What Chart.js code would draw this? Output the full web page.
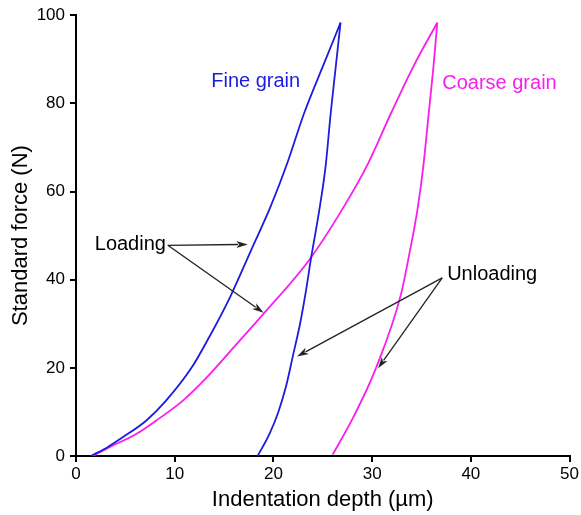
<!DOCTYPE html>
<html>
<head>
<meta charset="utf-8">
<script src="https://cdn.jsdelivr.net/npm/chart.js@4"></script>
<style>
  html, body { margin: 0; padding: 0; background: #fff; }
  #wrap { width: 581px; height: 515px; }
</style>
</head>
<body>
<div id="wrap"><canvas id="forceChart"></canvas></div>
<script>
// indentation depth (um) / standard force (N)
const fineLoadDepth = [1.5, 3.2, 4.7, 7.1, 9.1, 11.7, 13.5, 15.6, 17.7, 19.7, 21.4, 23.1, 25.1, 26.8];
const fineLoadForce = [0, 2.0, 4.2, 8.0, 12.5, 20.0, 27.0, 36.0, 46.5, 56.5, 66.4, 77.7, 88.9, 98.3];
const fineUnloadDepth = [18.4, 19.6, 20.5, 21.3, 22.0, 22.7, 23.3, 23.8, 24.7, 25.3, 25.8, 26.3, 26.8];
const fineUnloadForce = [0, 5.0, 10.0, 16.0, 23.0, 30.0, 37.5, 44.7, 56.5, 66.0, 77.7, 88.0, 98.3];
const coarseLoadDepth = [1.7, 3.4, 6.1, 8.1, 10.8, 13.2, 16.2, 18.9, 23.7, 27.2, 29.6, 31.9, 34.3, 36.6];
const coarseLoadForce = [0, 2.0, 5.0, 8.0, 12.5, 17.7, 25.2, 32.0, 44.7, 56.8, 66.4, 77.7, 88.9, 98.3];
const coarseUnloadDepth = [26.0, 28.1, 30.4, 32.9, 33.8, 34.6, 35.2, 35.7, 36.2, 36.6];
const coarseUnloadForce = [0.3, 8.8, 20.0, 36.5, 46.2, 56.0, 66.0, 77.0, 88.0, 98.3];

const xTicks = [0, 10, 20, 30, 40, 50];
const yTicks = [0, 20, 40, 60, 80, 100];

const BLUE = 'rgb(28,28,222)';
const MAGENTA = 'rgb(248,30,236)';
const FONT = 'Arial, "Liberation Sans", sans-serif';

function toPoints(xs, ys) {
  return xs.map((x, i) => ({x: x, y: ys[i]}));
}

function curve(label, xs, ys, color) {
  return {
    label: label,
    data: toPoints(xs, ys),
    showLine: true,
    borderColor: color,
    borderWidth: 1.8,
    pointRadius: 0,
    cubicInterpolationMode: 'monotone',
    fill: false
  };
}

const notes = {
  texts: [
    {text: 'Fine grain', x: 13.7, y: 84.9, color: BLUE},
    {text: 'Coarse grain', x: 37.1, y: 84.4, color: MAGENTA},
    {text: 'Loading', x: 1.9, y: 48.0, color: '#000'},
    {text: 'Unloading', x: 37.6, y: 41.1, color: '#000'}
  ],
  arrows: [
    {from: [9.3, 47.8], to: [17.4, 48.0]},
    {from: [9.3, 47.8], to: [19.0, 32.5]},
    {from: [37.1, 40.4], to: [22.4, 22.6]},
    {from: [37.1, 40.4], to: [30.6, 19.9]}
  ]
};

const notesPlugin = {
  id: 'notes',
  afterDatasetsDraw(chart) {
    const {ctx, scales: {x, y}} = chart;
    ctx.save();
    ctx.font = '20px ' + FONT;
    ctx.textAlign = 'left';
    ctx.textBaseline = 'middle';
    notes.texts.forEach(t => {
      ctx.fillStyle = t.color;
      ctx.fillText(t.text, x.getPixelForValue(t.x), y.getPixelForValue(t.y));
    });
    ctx.strokeStyle = '#222';
    ctx.fillStyle = '#222';
    ctx.lineWidth = 1.3;
    notes.arrows.forEach(a => {
      const x0 = x.getPixelForValue(a.from[0]), y0 = y.getPixelForValue(a.from[1]);
      const x1 = x.getPixelForValue(a.to[0]), y1 = y.getPixelForValue(a.to[1]);
      const ang = Math.atan2(y1 - y0, x1 - x0);
      const len = 12, half = 0.3;
      ctx.beginPath();
      ctx.moveTo(x0, y0);
      ctx.lineTo(x1 - Math.cos(ang) * len * 0.8, y1 - Math.sin(ang) * len * 0.8);
      ctx.stroke();
      ctx.beginPath();
      ctx.moveTo(x1, y1);
      ctx.lineTo(x1 - len * Math.cos(ang - half), y1 - len * Math.sin(ang - half));
      ctx.lineTo(x1 - len * 0.7 * Math.cos(ang), y1 - len * 0.7 * Math.sin(ang));
      ctx.lineTo(x1 - len * Math.cos(ang + half), y1 - len * Math.sin(ang + half));
      ctx.closePath();
      ctx.fill();
    });
    ctx.restore();
  }
};

const ctx = document.getElementById('forceChart').getContext('2d');
const forceChart = new Chart(ctx, {
  type: 'scatter',
  data: {
    datasets: [
      curve('Fine grain loading', fineLoadDepth, fineLoadForce, BLUE),
      curve('Fine grain unloading', fineUnloadDepth, fineUnloadForce, BLUE),
      curve('Coarse grain loading', coarseLoadDepth, coarseLoadForce, MAGENTA),
      curve('Coarse grain unloading', coarseUnloadDepth, coarseUnloadForce, MAGENTA)
    ]
  },
  options: {
    responsive: true,
    maintainAspectRatio: false,
    animation: false,
    layout: {padding: {left: 0, right: 2, top: 0, bottom: 0}},
    plugins: {
      legend: {display: false},
      tooltip: {enabled: false}
    },
    scales: {
      x: {
        type: 'linear',
        min: 0,
        max: 50,
        afterBuildTicks: s => { s.ticks = xTicks.map(v => ({value: v})); },
        afterFit: s => { s.height = 59; },
        border: {color: '#000', width: 2},
        grid: {drawOnChartArea: false, color: '#000', lineWidth: 2, tickLength: 6},
        ticks: {color: '#000', padding: 2, font: {family: FONT, size: 17}, maxRotation: 0},
        title: {
          display: true,
          text: 'Indentation depth (µm)',
          color: '#000',
          font: {family: FONT, size: 22},
          padding: {top: 0, bottom: 2}
        }
      },
      y: {
        type: 'linear',
        min: 0,
        max: 100,
        afterBuildTicks: s => { s.ticks = yTicks.map(v => ({value: v})); },
        afterFit: s => { s.width = 76; },
        border: {color: '#000', width: 2},
        grid: {drawOnChartArea: false, color: '#000', lineWidth: 2, tickLength: 6},
        ticks: {color: '#000', padding: 5, font: {family: FONT, size: 17}},
        title: {
          display: true,
          text: 'Standard force (N)',
          color: '#000',
          font: {family: FONT, size: 22},
          padding: {top: 8, bottom: 0}
        }
      }
    }
  },
  plugins: [notesPlugin]
});
</script>
</body>
</html>
